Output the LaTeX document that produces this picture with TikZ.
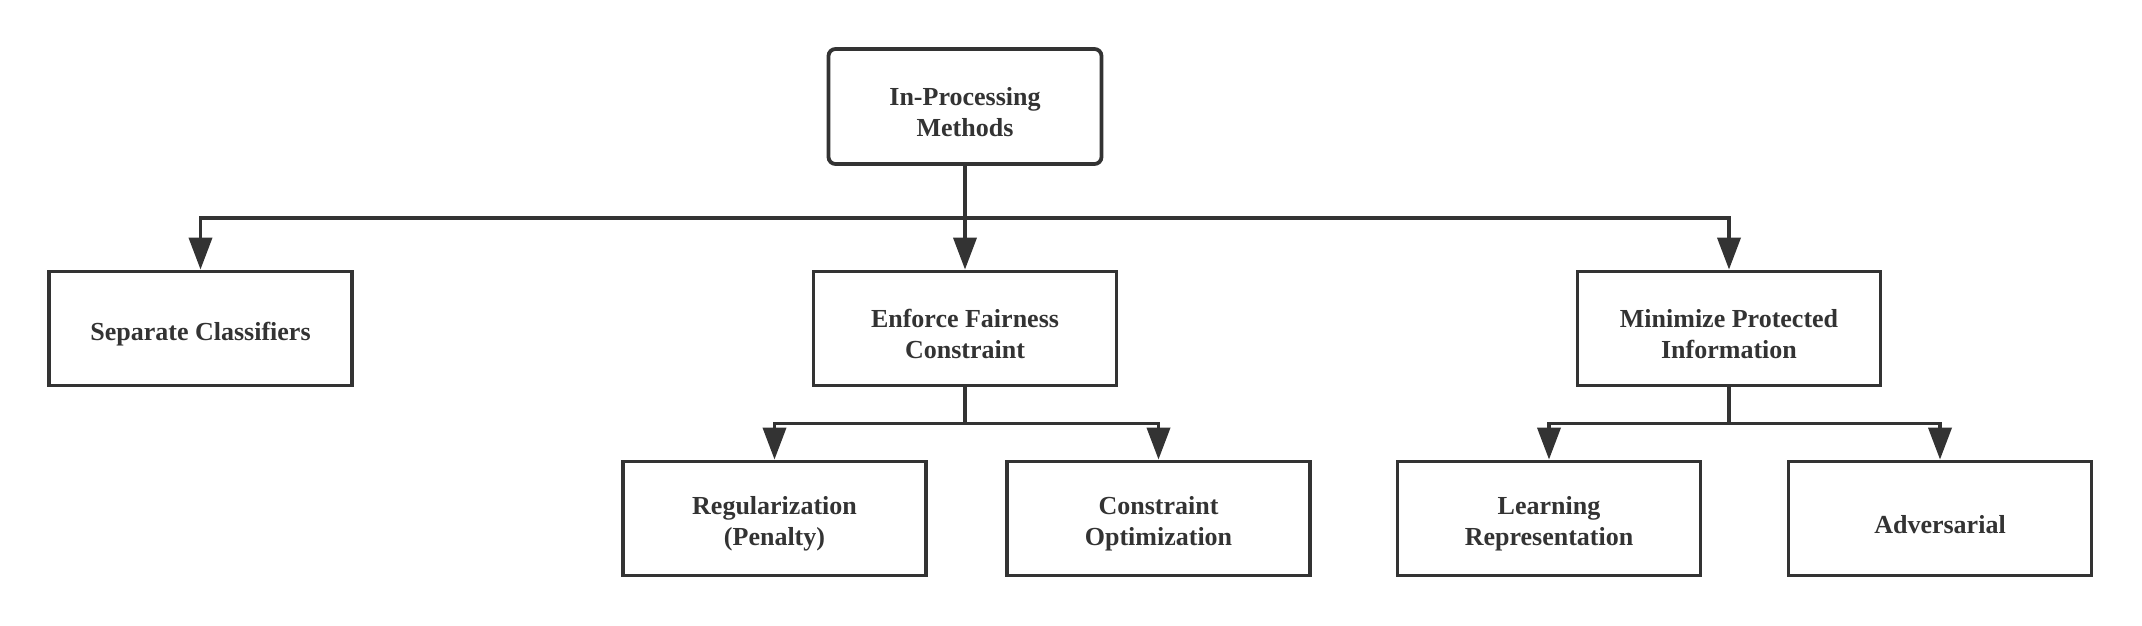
\documentclass[tikz,border=0pt]{standalone}
\usepackage{fontspec}
\setmainfont{Liberation Serif}
\usetikzlibrary{arrows.meta}
\definecolor{ink}{HTML}{333333}
\tikzset{
  box/.style={draw=ink, line width=3.8pt, minimum width=303pt, minimum height=114pt, align=center, text=ink, font=\fontsize{26}{31}\selectfont\bfseries, inner sep=0pt, execute at begin node={\rule{0pt}{30pt}}},
  boxtwo/.style={box, execute at begin node={\rule{0pt}{60pt}}},
  rootbox/.style={boxtwo, rounded corners=7pt, minimum width=273pt, minimum height=115pt},
  arr/.style={draw=ink, line width=3.8pt, -{Triangle[length=32pt,width=23pt]}},
  ln/.style={draw=ink, line width=3.8pt}
}
\begin{document}
\begin{tikzpicture}[x=1pt,y=-1pt]
\useasboundingbox (0,0) rectangle (2142,626);
\node[rootbox] (root) at (965,106.5) {In-Processing\\Methods};
\node[box] (sep) at (200.5,328.5) {Separate Classifiers};
\node[boxtwo] (enf) at (965,328.5) {Enforce Fairness\\Constraint};
\node[boxtwo] (min) at (1729,328.5) {Minimize Protected\\Information};
\node[boxtwo] (reg) at (774.5,518.5) {Regularization\\(Penalty)};
\node[boxtwo] (co) at (1158.5,518.5) {Constraint\\Optimization};
\node[boxtwo] (lr) at (1549,518.5) {Learning\\Representation};
\node[box] (adv) at (1940,518.5) {Adversarial};
\coordinate (b1) at (965,218);
\coordinate (b2) at (965,423.5);
\coordinate (b3) at (1729,423.5);
\draw[ln] (root.south) -- (b1);
\draw[arr] (b1) -- (enf.north);
\draw[arr] (b1) -| (sep.north);
\draw[arr] (b1) -| (min.north);
\draw[ln] (enf.south) -- (b2);
\draw[arr] (b2) -| (reg.north);
\draw[arr] (b2) -| (co.north);
\draw[ln] (min.south) -- (b3);
\draw[arr] (b3) -| (lr.north);
\draw[arr] (b3) -| (adv.north);
\end{tikzpicture}
\end{document}
